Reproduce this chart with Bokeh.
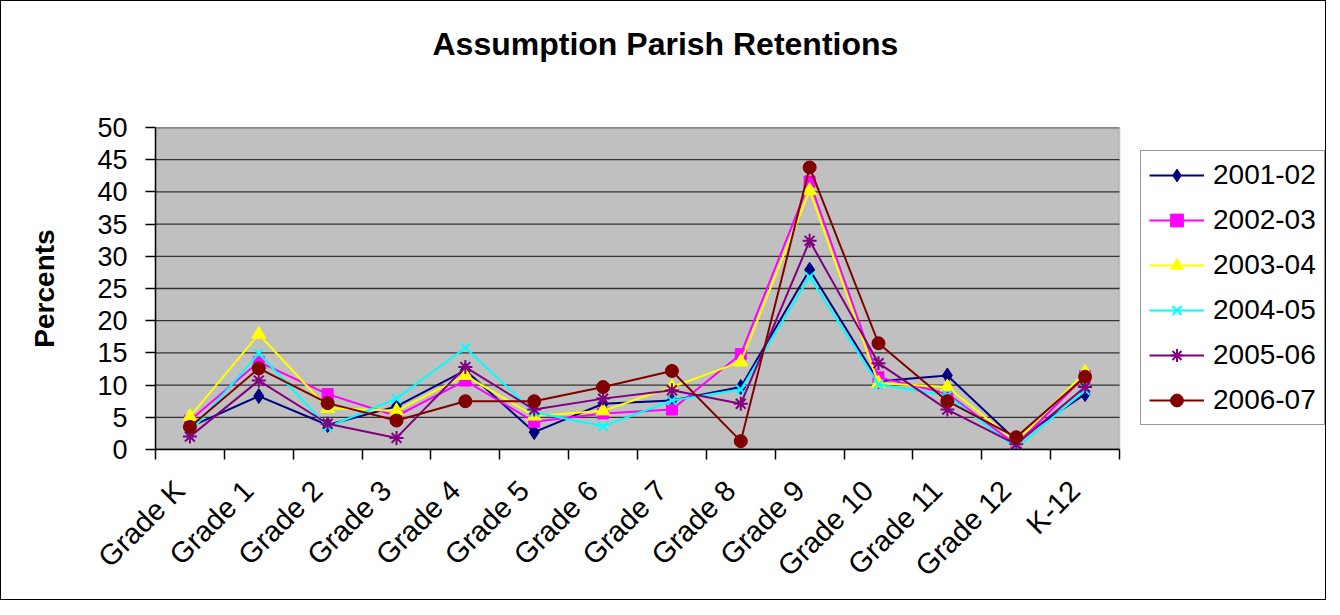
import math
from bokeh.plotting import figure
from bokeh.models import (Range1d, FixedTicker, Legend, LegendItem, ColumnDataSource, Title,
                          BoxAnnotation)
from bokeh.embed import file_html
from bokeh.resources import INLINE

categories = ["Grade K", "Grade 1", "Grade 2", "Grade 3", "Grade 4", "Grade 5", "Grade 6",
              "Grade 7", "Grade 8", "Grade 9", "Grade 10", "Grade 11", "Grade 12", "K-12"]

y2001_02 = [3.5, 8.3, 3.8, 6.7, 12.3, 2.7, 7.1, 7.6, 9.7, 27.9, 10.6, 11.5, 1.4, 8.6]
y2002_03 = [4.5, 13.6, 8.6, 5.2, 10.7, 4.3, 5.6, 6.2, 14.8, 41.6, 11.2, 8.7, 0.7, 11.4]
y2003_04 = [5.1, 17.9, 6.4, 6.0, 11.5, 5.2, 6.0, 9.7, 13.6, 40.2, 10.3, 9.7, 1.2, 12.0]
y2004_05 = [2.7, 14.9, 3.5, 7.9, 15.8, 5.8, 3.6, 7.6, 9.3, 26.8, 10.1, 8.4, 0.2, 9.2]
y2005_06 = [2.0, 10.7, 4.0, 1.8, 12.8, 6.2, 7.9, 9.2, 7.1, 32.4, 13.4, 6.2, 0.8, 9.7]
y2006_07 = [3.5, 12.6, 7.2, 4.5, 7.5, 7.5, 9.7, 12.2, 1.3, 43.8, 16.5, 7.5, 1.9, 11.3]

series_names = ["2001-02", "2002-03", "2003-04", "2004-05", "2005-06", "2006-07"]
series_values = [y2001_02, y2002_03, y2003_04, y2004_05, y2005_06, y2006_07]
colors = ["#000080", "#FF00FF", "#FFFF00", "#00FFFF", "#800080", "#800000"]
markers = ["diamond", "square", "triangle", "x", "asterisk", "circle"]
msizes = [15, 11, 14, 13, 14, 13]

y_ticks = [0, 5, 10, 15, 20, 25, 30, 35, 40, 45, 50]

FONT = "Liberation Sans"

n = len(categories)
xs = [i + 0.5 for i in range(n)]
label_pos = [x - 0.15 for x in xs]   # rotated labels end just left of the category centre

PLOT_W = 964      # width of the grey plot area
FRAME_W = 1170    # frame also holds the legend on its right
FRAME_H = 322

p = figure(frame_width=FRAME_W, frame_height=FRAME_H, output_backend="svg", toolbar_location=None,
           x_range=Range1d(0, n * FRAME_W / PLOT_W), y_range=Range1d(0, 50),
           min_border_left=154, min_border_right=0, min_border_top=126, min_border_bottom=150)

p.styles = {"border": "1px solid #000000"}

p.background_fill_color = "white"
p.border_fill_color = "white"
p.outline_line_color = None

# grey plot area
p.add_layout(BoxAnnotation(left=0, right=n, bottom=0, top=50, fill_color="#C0C0C0",
                           fill_alpha=1, line_color="#808080", line_width=2, level="underlay"))

# horizontal gridlines over the plot area only
p.xgrid.visible = False
p.ygrid.visible = False
p.segment(x0=[0] * len(y_ticks), x1=[n] * len(y_ticks), y0=y_ticks, y1=y_ticks,
          line_color="#333333", line_width=1.3)

# Real title on top, spacer title between it and the frame
p.title.text = "Assumption Parish Retentions"
p.title.text_font = FONT
p.title.text_font_size = "32px"
p.title.text_font_style = "bold"
p.title.text_color = "black"
p.title.align = "left"
p.title.vertical_align = "top"
p.title.offset = 277
p.title.standoff = 48
p.add_layout(Title(text=" ", text_font=FONT, text_font_size="10px", standoff=27), "above")

# Y axis
p.yaxis.ticker = FixedTicker(ticks=y_ticks)
p.yaxis.axis_label = "Percents"
p.yaxis.axis_label_text_font = FONT
p.yaxis.axis_label_text_font_size = "28px"
p.yaxis.axis_label_text_font_style = "bold"
p.yaxis.axis_label_text_color = "black"
p.yaxis.axis_label_standoff = 34
p.yaxis.major_label_text_font = FONT
p.yaxis.major_label_text_font_size = "27px"
p.yaxis.major_label_text_color = "black"
p.yaxis.major_label_standoff = 18
p.yaxis.major_tick_out = 10
p.yaxis.major_tick_in = 0
p.yaxis.minor_tick_out = 0
p.yaxis.minor_tick_in = 0
p.yaxis.axis_line_color = "black"
p.yaxis.axis_line_width = 1.5
p.yaxis.major_tick_line_width = 1.5

# X axis: labels near category centres, ticks at category boundaries
p.xaxis.bounds = (0, n)
p.xaxis.ticker = FixedTicker(ticks=label_pos, minor_ticks=list(range(n + 1)))
p.xaxis.major_label_overrides = {x: c for x, c in zip(label_pos, categories)}
p.xaxis.major_label_orientation = math.pi / 4
p.xaxis.major_label_text_font = FONT
p.xaxis.major_label_text_font_size = "29px"
p.xaxis.major_label_text_color = "black"
p.xaxis.major_label_standoff = 26
p.xaxis.major_tick_out = 0
p.xaxis.major_tick_in = 0
p.xaxis.minor_tick_out = 10
p.xaxis.minor_tick_in = 0
p.xaxis.minor_tick_line_color = "black"
p.xaxis.minor_tick_line_width = 1.5
p.xaxis.axis_line_color = "black"
p.xaxis.axis_line_width = 1.5

items = []
for name, vals, col, mk, ms in zip(series_names, series_values, colors, markers, msizes):
    src = ColumnDataSource(dict(x=xs, y=vals))
    ln = p.line("x", "y", source=src, line_color=col, line_width=2)
    sc = p.scatter("x", "y", source=src, marker=mk, size=ms, fill_color=col,
                   line_color=col, line_width=2 if mk in ("x", "asterisk") else 1)
    items.append(LegendItem(label=name, renderers=[ln, sc]))

legend = Legend(items=items, location=(PLOT_W + 21, 24), orientation="vertical")
legend.label_text_font = FONT
legend.label_text_font_size = "28px"
legend.label_text_color = "black"
legend.glyph_width = 55
legend.glyph_height = 32
legend.label_height = 32
legend.label_standoff = 9
legend.spacing = 13
legend.padding = 8
legend.margin = 0
legend.border_line_color = "#333333"
legend.border_line_width = 1
legend.background_fill_color = "white"
legend.background_fill_alpha = 1
p.add_layout(legend, "center")

open("out.html", "w").write(file_html(p, INLINE))
